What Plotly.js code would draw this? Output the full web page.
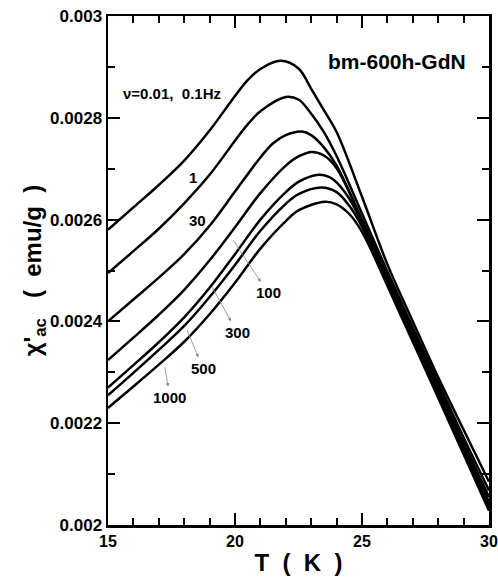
<!DOCTYPE html>
<html>
<head>
<meta charset="utf-8">
<script src="https://cdn.plot.ly/plotly-3.0.1.min.js"></script>
<style>html,body{margin:0;padding:0;background:#fff;}#chart{width:498px;height:587px;}</style>
</head>
<body>
<div id="chart"></div>
<script>
// Data (T in K, chi'ac in emu/g)
const seriesNames = ["0.01, 0.1 Hz", "1 Hz", "30 Hz", "100 Hz", "300 Hz", "500 Hz", "1000 Hz"];

const T_a = [15, 16, 17, 18, 19, 20, 20.5, 21, 21.8, 22.5, 23, 23.5, 24, 25, 26, 27, 28, 29, 30];
const chi_a = [0.00258, 0.002624, 0.002668, 0.002716, 0.002775, 0.002843, 0.002874, 0.002896, 0.002912, 0.002897, 0.002857, 0.002815, 0.002772, 0.002645, 0.002512, 0.0024, 0.00229, 0.002187, 0.002085];

const T_b = [15, 16, 17, 18, 19, 20, 20.5, 21, 22, 22.5, 23, 23.5, 24, 25, 26, 27, 28, 29, 30];
const chi_b = [0.002495, 0.002538, 0.002582, 0.002632, 0.002688, 0.002755, 0.002787, 0.002813, 0.002841, 0.002836, 0.002808, 0.002772, 0.002725, 0.002612, 0.002498, 0.002388, 0.00228, 0.002172, 0.002068];

const T_c = [15, 16, 17, 18, 19, 20, 21, 21.5, 22, 22.63, 23, 23.5, 24, 25, 26, 27, 28, 29, 30];
const chi_c = [0.0024, 0.002443, 0.002486, 0.002532, 0.002588, 0.002655, 0.002722, 0.00275, 0.002766, 0.002773, 0.002766, 0.002742, 0.002706, 0.0026, 0.00249, 0.00238, 0.002272, 0.002162, 0.002055];

const T_d = [15, 16, 17, 18, 19, 20, 21, 22, 22.5, 23.02, 23.5, 24, 25, 26, 27, 28, 29, 30];
const chi_d = [0.002324, 0.002368, 0.002413, 0.002462, 0.00252, 0.002585, 0.002652, 0.002706, 0.002724, 0.002733, 0.002726, 0.002701, 0.002598, 0.002485, 0.002375, 0.002265, 0.002155, 0.002045];

const T_e = [15, 16, 17, 18, 19, 20, 21, 22, 22.5, 23.28, 23.7, 24, 24.5, 25, 26, 27, 28, 29, 30];
const chi_e = [0.00227, 0.002314, 0.002359, 0.002408, 0.002466, 0.002532, 0.0026, 0.002654, 0.002674, 0.002688, 0.002684, 0.002673, 0.002641, 0.002594, 0.00248, 0.00237, 0.00226, 0.00215, 0.002038];

const T_f = [15, 16, 17, 18, 19, 20, 21, 22, 22.5, 23.41, 24, 24.5, 25, 26, 27, 28, 29, 30];
const chi_f = [0.002255, 0.002299, 0.002344, 0.002391, 0.002448, 0.002511, 0.002578, 0.002631, 0.00265, 0.002663, 0.002654, 0.002627, 0.002586, 0.002477, 0.002365, 0.002255, 0.002144, 0.002033];

const T_g = [15, 16, 17, 18, 19, 20, 21, 22, 22.5, 23.54, 24, 24.5, 25, 26, 27, 28, 29, 30];
const chi_g = [0.00223, 0.002272, 0.002315, 0.00236, 0.002414, 0.002476, 0.002543, 0.002597, 0.002618, 0.002635, 0.00263, 0.002611, 0.002576, 0.00247, 0.00236, 0.00225, 0.002139, 0.002028];

const xTickVals = [15, 20, 25, 30];
const xTickText = ["15", "20", "25", "30"];
const yTickVals = [0.002, 0.0022, 0.0024, 0.0026, 0.0028, 0.003];
const yTickText = ["0.002", "0.0022", "0.0024", "0.0026", "0.0028", "0.003"];

// arrow labels: text, label position, and the point on the curve where the arrow starts
const arrowLabels = ["100", "300", "500", "1000"];
const arrowLabelT = [21.3, 20.08, 18.74, 17.44];
const arrowLabelChi = [0.002456, 0.002379, 0.002308, 0.00225];
const arrowTailT = [19.92, 19.09, 18.11, 17.24];
const arrowTailChi = [0.00256, 0.002468, 0.002383, 0.00231];

const Ts = [T_a, T_b, T_c, T_d, T_e, T_f, T_g];
const chis = [chi_a, chi_b, chi_c, chi_d, chi_e, chi_f, chi_g];

const traces = Ts.map((t, i) => ({
  x: t, y: chis[i], name: seriesNames[i], type: 'scatter', mode: 'lines',
  line: {color: '#000', width: 2.5, shape: 'spline', smoothing: 1},
  showlegend: false, hoverinfo: 'skip'
}));
// empty trace so the mirrored top/right axes are drawn
traces.push({x: [null], y: [null], xaxis: 'x2', yaxis: 'y2', type: 'scatter', mode: 'lines', showlegend: false, hoverinfo: 'skip'});

const F = 'Liberation Sans, Arial, Helvetica, sans-serif';

const textAnn = [
  {text: '<b>bm-600h-GdN</b>', x: 468, y: 61, size: 21, anchor: 'right'},
  {text: '<b>ν=0.01,  0.1Hz</b>', x: 172, y: 93, size: 15, anchor: 'center'},
  {text: '<b>1</b>', x: 193, y: 177, size: 15, anchor: 'center'},
  {text: '<b>30</b>', x: 197, y: 220, size: 15, anchor: 'center'}
].map(a => ({
  text: a.text, x: (a.x - 108) / 381, y: (525 - a.y) / 509, xref: 'paper', yref: 'paper',
  xanchor: a.anchor, yanchor: 'middle', showarrow: false,
  font: {family: F, size: a.size, color: '#000'}
}));

const arrowAnn = arrowLabels.map((t, i) => ({
  text: '<b>' + t + '</b>',
  x: arrowTailT[i], y: arrowTailChi[i], xref: 'x', yref: 'y',
  ax: arrowLabelT[i], ay: arrowLabelChi[i], axref: 'x', ayref: 'y',
  showarrow: true, arrowside: 'start', arrowhead: 2, startarrowhead: 2, startarrowsize: 0.9,
  arrowwidth: 0.8, arrowcolor: '#888', standoff: 0, startstandoff: 1,
  font: {family: F, size: 15, color: '#000'}
}));

const tickCommon = {ticks: 'inside', ticklen: 12, tickwidth: 2, tickcolor: '#000', showgrid: false, zeroline: false};

const layout = {
  width: 498, height: 587,
  margin: {l: 108, r: 9, t: 16, b: 62},
  paper_bgcolor: '#fff', plot_bgcolor: '#fff',
  xaxis: Object.assign({
    range: [15, 30], tickmode: 'array', tickvals: xTickVals, ticktext: xTickText,
    minor: {dtick: 1, tick0: 15, ticks: 'inside', ticklen: 7, tickwidth: 2, tickcolor: '#000', showgrid: false},
    showline: true, linewidth: 2.5, linecolor: '#000', mirror: true,
    tickfont: {family: F, size: 16, color: '#000', weight: 'bold'},
    title: {text: '<b>T  (  K  )</b>', font: {family: F, size: 24, color: '#000'}, standoff: 6}
  }, tickCommon),
  yaxis: Object.assign({
    range: [0.002, 0.003], tickmode: 'array', tickvals: yTickVals, ticktext: yTickText,
    minor: {dtick: 0.0001, tick0: 0.002, ticks: 'inside', ticklen: 7, tickwidth: 2, tickcolor: '#000', showgrid: false},
    showline: true, linewidth: 2.5, linecolor: '#000', mirror: true,
    tickfont: {family: F, size: 17, color: '#000', weight: 'bold'},
    title: {text: "<b>χ'<sub>ac</sub>   (  emu/g  )</b>", font: {family: F, size: 24, color: '#000'}, standoff: 2}
  }, tickCommon),
  xaxis2: Object.assign({
    overlaying: 'x', side: 'top', range: [15, 30], tickmode: 'array', tickvals: xTickVals,
    showticklabels: false, showline: false,
    minor: {dtick: 1, tick0: 15, ticks: 'inside', ticklen: 7, tickwidth: 2, tickcolor: '#000', showgrid: false}
  }, tickCommon),
  yaxis2: Object.assign({
    overlaying: 'y', side: 'right', range: [0.002, 0.003], tickmode: 'array', tickvals: yTickVals,
    showticklabels: false, showline: false,
    minor: {dtick: 0.0001, tick0: 0.002, ticks: 'inside', ticklen: 7, tickwidth: 2, tickcolor: '#000', showgrid: false}
  }, tickCommon),
  annotations: textAnn.concat(arrowAnn)
};

Plotly.newPlot('chart', traces, layout, {displayModeBar: false, staticPlot: true});
</script>
</body>
</html>
